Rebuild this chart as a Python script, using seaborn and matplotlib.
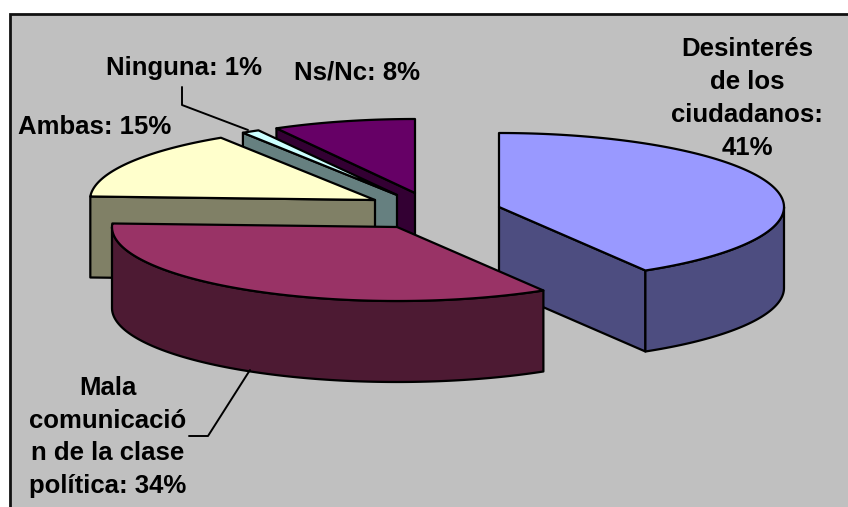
import numpy as np
import matplotlib
matplotlib.use("Agg")
import matplotlib.pyplot as plt
from matplotlib.patches import Polygon
import seaborn as sns

categories = ["Desinterés de los ciudadanos", "Mala comunicación de la clase política",
              "Ambas", "Ninguna", "Ns/Nc"]
values = [41, 34, 15, 1, 8]
labels = ["Desinterés\nde los\nciudadanos:\n41%", "Mala\ncomunicació\nn de la clase\npolítica: 34%",
          "Ambas: 15%", "Ninguna: 1%", "Ns/Nc: 8%"]
top_colors = ["#9999FF", "#993366", "#FFFFCC", "#CCFFFF", "#660066"]
side_colors = ["#4D4D80", "#4D1A33", "#808066", "#668080", "#330033"]

sns.set_theme(style="white")
plt.rcParams["font.family"] = ["Liberation Sans", "DejaVu Sans"]

W, H = 848, 507
RX, RY, DEPTH = 285, 74, 81
centers = [(499, 207), (397, 227), (375, 200), (397, 195), (415, 193)]
label_pos = [(747, 98.5), (108, 437), (95, 127), (184, 67.5), (357, 73)]
draw_order = [4, 3, 2, 0, 1]
LW = 1.6

fig = plt.figure(figsize=(W / 100, H / 100), dpi=100, facecolor="white")
ax = fig.add_axes([0, 0, 1, 1])
ax.set_xlim(0, W)
ax.set_ylim(H, 0)
ax.axis("off")

# chart area
ax.add_patch(Polygon([(10, H + 5), (10, 13.5), (W + 5, 13.5), (W + 5, H + 5)], closed=True,
                     facecolor="#C0C0C0", edgecolor="#111111", lw=2, zorder=0))

fracs = np.array(values, dtype=float) / np.sum(values)
edges = np.concatenate([[0], np.cumsum(fracs)]) * 2 * np.pi


def pt(c, t):
    return c[0] + RX * np.sin(t), c[1] - RY * np.cos(t)


def arc(c, t0, t1):
    ts = np.linspace(t0, t1, max(3, int(abs(t1 - t0) * 60)))
    return np.column_stack([c[0] + RX * np.sin(ts), c[1] - RY * np.cos(ts)])


z = 1
for i in draw_order:
    c, t0, t1 = centers[i], edges[i], edges[i + 1]
    style = dict(edgecolor="black", lw=LW, joinstyle="round")
    # visible radial faces
    for t, vis in ((t0, np.sin(t0) < -1e-6), (t1, np.sin(t1) > 1e-6)):
        if vis:
            p = pt(c, t)
            ax.add_patch(Polygon([c, p, (p[0], p[1] + DEPTH), (c[0], c[1] + DEPTH)],
                                 facecolor=side_colors[i], zorder=z, **style))
    # visible outer wall (front half of the ellipse)
    a0, a1 = max(t0, np.pi / 2), min(t1, 3 * np.pi / 2)
    if a1 > a0:
        upper = arc(c, a0, a1)
        lower = upper[::-1] + [0, DEPTH]
        ax.add_patch(Polygon(np.vstack([upper, lower]), facecolor=side_colors[i], zorder=z, **style))
    # top face
    ax.add_patch(Polygon(np.vstack([[c], arc(c, t0, t1)]), facecolor=top_colors[i], zorder=z, **style))
    z += 1

for lab, (x, y) in zip(labels, label_pos):
    ax.text(x, y, lab, ha="center", va="center", fontsize=18.5, fontweight="bold",
            color="black", linespacing=1.47, zorder=20)

ax.plot([182, 182, 248], [87, 105, 130], color="black", lw=1.4, zorder=19)
ax.plot([189, 208, 250], [436, 436, 370], color="black", lw=1.4, zorder=19)

fig.savefig("out.png", dpi=100, facecolor="white")
